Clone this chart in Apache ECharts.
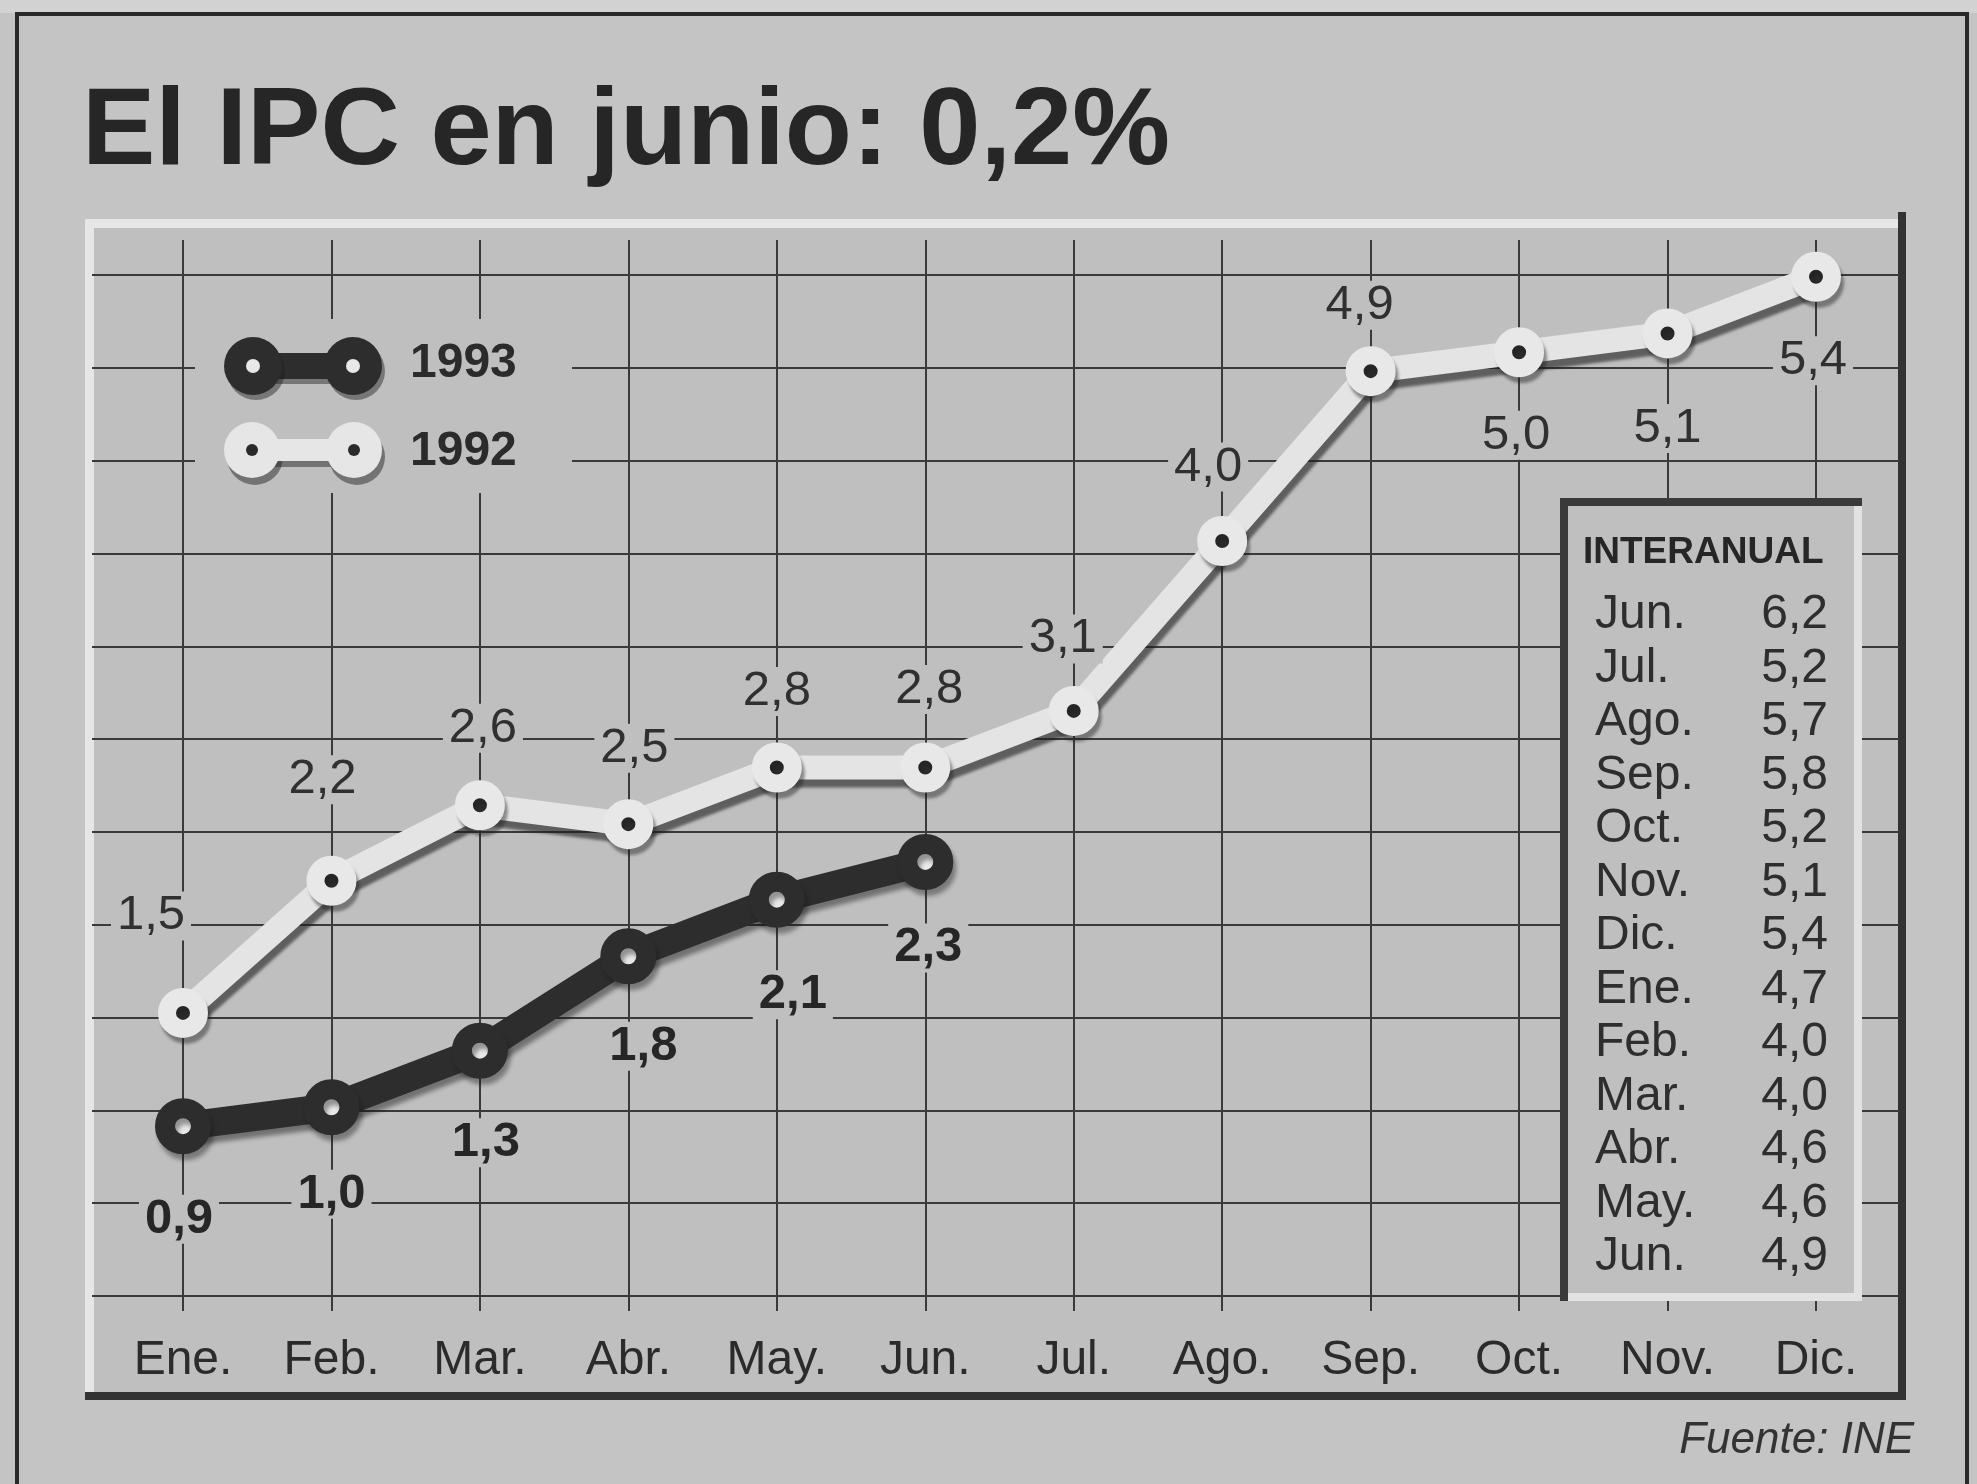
<!DOCTYPE html>
<html><head><meta charset="utf-8">
<script src="https://cdn.jsdelivr.net/npm/echarts@6/dist/echarts.min.js"></script>
<style>html,body{margin:0;padding:0;background:#c4c4c4}#c{width:1977px;height:1484px}</style>
</head><body><div id="c"></div>
<script>
// ---- data ----
const months = ['Ene.','Feb.','Mar.','Abr.','May.','Jun.','Jul.','Ago.','Sep.','Oct.','Nov.','Dic.'];
const ipc1992 = [1.5, 2.2, 2.6, 2.5, 2.8, 2.8, 3.1, 4.0, 4.9, 5.0, 5.1, 5.4];
const ipc1993 = [0.9, 1.0, 1.3, 1.8, 2.1, 2.3];
const interMonths = ['Jun.','Jul.','Ago.','Sep.','Oct.','Nov.','Dic.','Ene.','Feb.','Mar.','Abr.','May.','Jun.'];
const interValues = [6.2, 5.2, 5.7, 5.8, 5.2, 5.1, 5.4, 4.7, 4.0, 4.0, 4.6, 4.6, 4.9];
const legendYears = ['1993', '1992'];
const titleText = 'El IPC en junio: 0,2%';
const sourceText = 'Fuente: INE';
const boxTitle = 'INTERANUAL';

// ---- label placement (style, not data) ----
const off1992 = [[-32,-97],[-9,-101],[3,-77],[6,-76],[0,-76],[4,-78],[-11,-72],[-14,-74],[-11,-66],[-3,83],[0,95],[-3,84]];
const off1993 = [[-4,93],[0,87],[6,92],[15,90],[16,95],[3,86]];

const FONT = "'Liberation Sans', Arial, Helvetica, sans-serif";
const plotBg = '#bfbfbf';
const ink = '#2b2b2b';
const fmt = v => v.toFixed(1).replace('.', ',');

function buildData(vals, offs, bold) {
  return vals.map((v, i) => ({
    value: v,
    label: {
      show: true, position: 'inside', offset: offs[i],
      formatter: fmt(v), fontSize: 49, fontFamily: FONT,
      fontWeight: bold ? 'bold' : 'normal', color: bold ? '#262626' : '#303030',
      backgroundColor: plotBg, padding: [0, 6]
    }
  }));
}

const graphics = [];
// outer page strip and frame
graphics.push({type:'rect', z:-20, shape:{x:0,y:0,width:1977,height:13}, style:{fill:'#d2d2d2'}});
graphics.push({type:'rect', z:-20, shape:{x:17,y:14,width:1950,height:1520}, style:{fill:null, stroke:'#2a2a2a', lineWidth:4}});
// plot background
graphics.push({type:'rect', z:-10, shape:{x:88,y:222,width:1816,height:1176}, style:{fill:plotBg}});
// bevel of plot frame
graphics.push({type:'rect', z:-5, shape:{x:85,y:219,width:1820,height:9}, style:{fill:'#e6e6e6'}});
graphics.push({type:'rect', z:-5, shape:{x:85,y:219,width:9,height:1180}, style:{fill:'#e6e6e6'}});
graphics.push({type:'rect', z:-4, shape:{x:1898,y:212,width:8,height:1188}, style:{fill:'#333'}});
graphics.push({type:'rect', z:-4, shape:{x:85,y:1392,width:1821,height:8}, style:{fill:'#333'}});
// title
graphics.push({type:'text', z:10, left:82, top:79, style:{text:titleText, fontSize:110, fontWeight:'bold', fontFamily:FONT, fill:'#262626'}});
// source
graphics.push({type:'text', z:10, x:1914, y:1441, style:{text:sourceText, fontSize:44, fontStyle:'italic', fontFamily:FONT, fill:'#333', align:'right', verticalAlign:'middle'}});
// legend knockout
graphics.push({type:'rect', z:3, shape:{x:195,y:319,width:377,height:174}, style:{fill:plotBg}});
// legend 1993 (dark)
const dk = '#2d2d2d', lt = '#e6e6e6';
graphics.push({type:'rect', z:6, shape:{x:256,y:366-13+5,width:100,height:26}, style:{fill:'rgba(30,30,30,0.45)'}});
graphics.push({type:'rect', z:6, shape:{x:253,y:366-13,width:100,height:26}, style:{fill:dk}});
[253,353].forEach(cx => {
  graphics.push({type:'circle', z:6, shape:{cx:cx+3,cy:371,r:29}, style:{fill:'rgba(30,30,30,0.45)'}});
  graphics.push({type:'circle', z:7, shape:{cx:cx,cy:366,r:29}, style:{fill:dk}});
  graphics.push({type:'circle', z:8, shape:{cx:cx,cy:366,r:7}, style:{fill:'#e8e8e8'}});
});
// legend 1992 (light)
graphics.push({type:'rect', z:6, shape:{x:256,y:450-10+7,width:102,height:20}, style:{fill:'rgba(40,40,40,0.5)'}});
[252,354].forEach(cx => {
  graphics.push({type:'circle', z:6, shape:{cx:cx+3,cy:457,r:28}, style:{fill:'rgba(40,40,40,0.5)'}});
});
graphics.push({type:'rect', z:7, shape:{x:252,y:450-11,width:102,height:22}, style:{fill:lt}});
[252,354].forEach(cx => {
  graphics.push({type:'circle', z:7, shape:{cx:cx,cy:450,r:28}, style:{fill:lt}});
  graphics.push({type:'circle', z:8, shape:{cx:cx,cy:450,r:6}, style:{fill:'#2a2a2a'}});
});
graphics.push({type:'text', z:8, x:410, y:364, style:{text:legendYears[0], fontSize:48, fontWeight:'bold', fontFamily:FONT, fill:ink, verticalAlign:'middle'}});
graphics.push({type:'text', z:8, x:410, y:452, style:{text:legendYears[1], fontSize:48, fontWeight:'bold', fontFamily:FONT, fill:ink, verticalAlign:'middle'}});
// interanual box
graphics.push({type:'rect', z:3, shape:{x:1560,y:498,width:302,height:803}, style:{fill:plotBg}});
graphics.push({type:'rect', z:4, shape:{x:1560,y:498,width:302,height:8}, style:{fill:'#3a3a3a'}});
graphics.push({type:'rect', z:4, shape:{x:1560,y:498,width:8,height:803}, style:{fill:'#3a3a3a'}});
graphics.push({type:'rect', z:4, shape:{x:1854,y:506,width:8,height:795}, style:{fill:'#e2e2e2'}});
graphics.push({type:'rect', z:4, shape:{x:1568,y:1293,width:294,height:8}, style:{fill:'#e2e2e2'}});
graphics.push({type:'text', z:5, x:1583, y:553, style:{text:boxTitle, fontSize:37, fontWeight:'bold', fontFamily:FONT, fill:'#262626', verticalAlign:'middle'}});
interMonths.forEach((m, i) => {
  const y = 615 + 53.5 * i;
  graphics.push({type:'text', z:5, x:1595, y:y, style:{text:m, fontSize:48, fontFamily:FONT, fill:'#2e2e2e', verticalAlign:'middle'}});
  graphics.push({type:'text', z:5, x:1828, y:y, style:{text:fmt(interValues[i]), fontSize:48, fontFamily:FONT, fill:'#2e2e2e', align:'right', verticalAlign:'middle'}});
});

const chart = echarts.init(document.getElementById('c'), null, {renderer:'canvas'});
chart.setOption({
  animation: false,
  backgroundColor: '#c4c4c4',
  grid: [
    {left:183, right:161, top:240, bottom:173},
    {left:92, right:77, top:275, bottom:188}
  ],
  xAxis: [
    {gridIndex:0, type:'category', data:months, boundaryGap:false,
     axisLine:{show:false}, axisTick:{show:false},
     axisLabel:{interval:0, fontSize:48, fontFamily:FONT, color:ink, margin:26},
     splitLine:{show:true, interval:0, lineStyle:{color:'#3a3a3a', width:2}}},
    {gridIndex:1, type:'value', min:0, max:1, show:false}
  ],
  yAxis: [
    {gridIndex:0, type:'value', min:-0.0795, max:5.595, show:false},
    {gridIndex:1, type:'value', min:0, max:5.5, interval:0.5,
     axisLine:{show:false}, axisTick:{show:false}, axisLabel:{show:false},
     splitLine:{show:true, lineStyle:{color:'#3a3a3a', width:2}}}
  ],
  graphic: graphics,
  series: [
    {name:'1992', type:'line', xAxisIndex:0, yAxisIndex:0, z:5,
     data: buildData(ipc1992, off1992, false),
     symbol:'circle', symbolSize:32,
     lineStyle:{color:'#e4e4e4', width:24, join:'round', shadowColor:'rgba(30,30,30,0.6)', shadowBlur:3, shadowOffsetX:3, shadowOffsetY:8},
     itemStyle:{color:'#2a2a2a', borderColor:'#e8e8e8', borderWidth:18, shadowColor:'rgba(30,30,30,0.45)', shadowBlur:3, shadowOffsetX:3, shadowOffsetY:6}},
    {name:'1993', type:'line', xAxisIndex:0, yAxisIndex:0, z:6,
     data: buildData(ipc1993, off1993, true),
     symbol:'circle', symbolSize:36,
     lineStyle:{color:'#2d2d2d', width:28, join:'round', shadowColor:'rgba(20,20,20,0.45)', shadowBlur:4, shadowOffsetX:3, shadowOffsetY:6},
     itemStyle:{color:'#e8e8e8', borderColor:'#2d2d2d', borderWidth:20, shadowColor:'rgba(20,20,20,0.4)', shadowBlur:4, shadowOffsetX:3, shadowOffsetY:6}}
  ]
});
</script></body></html>
